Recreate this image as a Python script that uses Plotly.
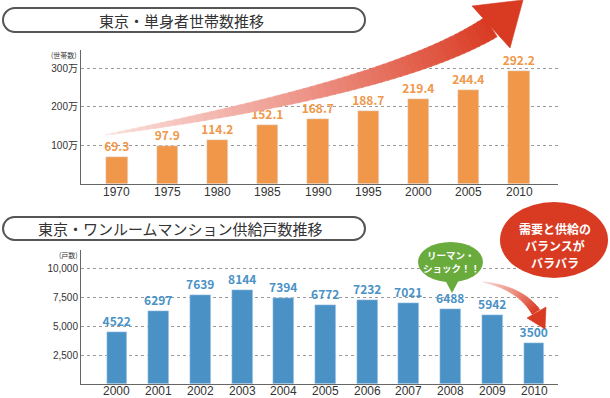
import plotly.graph_objects as go

# ---------------- data ----------------
single_years = ["1970", "1975", "1980", "1985", "1990", "1995", "2000", "2005", "2010"]
single_households = [69.3, 97.9, 114.2, 152.1, 168.7, 188.7, 219.4, 244.4, 292.2]
single_ticks = [100, 200, 300]
single_ticktext = ["100万", "200万", "300万"]

studio_years = ["2000", "2001", "2002", "2003", "2004", "2005", "2006", "2007", "2008", "2009", "2010"]
studio_supply = [4522, 6297, 7639, 8144, 7394, 6772, 7232, 7021, 6488, 5942, 3500]
studio_ticks = [2500, 5000, 7500, 10000]
studio_ticktext = ["2,500", "5,000", "7,500", "10,000"]

title_top = "東京・単身者世帯数推移"
title_bottom = "東京・ワンルームマンション供給戸数推移"
unit_top = "(世帯数)"
unit_bottom = "(戸数)"
bubble_lines = ["リーマン・", "ショック！！"]
circle_lines = ["需要と供給の", "バランスが", "バラバラ"]

# ---------------- layout helpers ----------------
W, H = 610, 398
FONT = "Noto Sans CJK JP"
LATIN = "Liberation Sans, Noto Sans CJK JP"
ORANGE = "#f0974a"
BLUE = "#4a92c6"

def px_x(p):
    return p / W

def px_y(p):
    return 1 - p / H

fig = go.Figure()

fig.add_trace(go.Bar(
    x=single_years, y=single_households, xaxis="x", yaxis="y",
    marker_color=ORANGE, width=0.42,
    text=[f"{v:.1f}" for v in single_households], textposition="outside",
    constraintext="none",
    textfont=dict(color=ORANGE, size=12, family=FONT, weight="bold"),
    cliponaxis=False, hoverinfo="skip", showlegend=False,
))
fig.add_trace(go.Bar(
    x=studio_years, y=studio_supply, xaxis="x2", yaxis="y2",
    marker_color=BLUE, width=0.5,
    text=[str(v) for v in studio_supply], textposition="outside",
    constraintext="none",
    textfont=dict(color=BLUE, size=12, family=FONT, weight="bold"),
    cliponaxis=False, hoverinfo="skip", showlegend=False,
))
# invisible trace to instantiate the pixel overlay axes
fig.add_trace(go.Scatter(x=[0], y=[0], xaxis="x3", yaxis="y3", mode="markers",
                         marker=dict(opacity=0), hoverinfo="skip", showlegend=False))

# ---------------- decorations (pixel coordinates on x3/y3) ----------------
shapes = []

def lerp(a, b, t):
    return a + (b - a) * t

def color_at(stops, t):
    for (t0, c0), (t1, c1) in zip(stops, stops[1:]):
        if t <= t1:
            u = (t - t0) / (t1 - t0) if t1 > t0 else 0
            return "rgb(%d,%d,%d)" % tuple(round(lerp(c0[i], c1[i], u)) for i in range(3))
    c = stops[-1][1]
    return "rgb(%d,%d,%d)" % c

def bez(pts, t):
    if len(pts) == 3:
        (x0, y0), (x1, y1), (x2, y2) = pts
        return ((1-t)**2*x0 + 2*(1-t)*t*x1 + t*t*x2,
                (1-t)**2*y0 + 2*(1-t)*t*y1 + t*t*y2)
    (x0, y0), (x1, y1), (x2, y2), (x3, y3) = pts
    a, b, c, d = (1-t)**3, 3*(1-t)**2*t, 3*(1-t)*t*t, t**3
    return (a*x0 + b*x1 + c*x2 + d*x3, a*y0 + b*y1 + c*y2 + d*y3)

def gradient_arrow(pts, maxw, power, stops, head, n=60):
    import math
    def edge(t):
        x, y = bez(pts, t)
        e = 1e-3
        xa, ya = bez(pts, max(0, t - e))
        xb, yb = bez(pts, min(1, t + e))
        dx, dy = xb - xa, yb - ya
        L = math.hypot(dx, dy)
        nx, ny = -dy / L, dx / L
        w = maxw * (t ** power)
        return (x + nx * w, y + ny * w), (x - nx * w, y - ny * w)
    for i in range(n):
        t0, t1 = i / n, (i + 1) / n
        a0, b0 = edge(t0)
        a1, b1 = edge(min(1, t1 + 0.004))
        col = color_at(stops, (t0 + t1) / 2)
        path = "M %.2f,%.2f L %.2f,%.2f L %.2f,%.2f L %.2f,%.2f Z" % (
            a0[0], a0[1], a1[0], a1[1], b1[0], b1[1], b0[0], b0[1])
        shapes.append(dict(type="path", xref="x3", yref="y3", path=path,
                           fillcolor=col, line=dict(width=0.6, color=col), layer="above"))
    hc = color_at(stops, 1)
    path = "M %.1f,%.1f L %.1f,%.1f L %.1f,%.1f Z" % (head[0] + head[1] + head[2])
    shapes.append(dict(type="path", xref="x3", yref="y3", path=path,
                       fillcolor=hc, line=dict(width=0.6, color=hc), layer="above"))

# big rising arrow
gradient_arrow([(105, 135), (240, 112), (410, 78), (491, 27)], 11.5, 0.8,
               [(0, (250, 226, 222)), (0.45, (238, 152, 140)), (0.75, (226, 96, 76)), (1, (216, 58, 34))],
               [(472, 6), (523, 0), (510, 48)])
# small falling arrow
gradient_arrow([(483, 282), (520, 288), (536, 312)], 4.5, 0.9,
               [(0, (248, 215, 210)), (0.5, (236, 140, 125)), (1, (216, 58, 34))],
               [(527, 318), (545, 329), (546, 307)], n=30)

def pill(x0, x1, y0, y1):
    r = (y1 - y0) / 2
    ym = (y0 + y1) / 2
    k = 0.55 * r
    p = (f"M {x0+r},{y0} L {x1-r},{y0} "
         f"C {x1-r+k},{y0} {x1},{ym-k} {x1},{ym} "
         f"C {x1},{ym+k} {x1-r+k},{y1} {x1-r},{y1} "
         f"L {x0+r},{y1} "
         f"C {x0+r-k},{y1} {x0},{ym+k} {x0},{ym} "
         f"C {x0},{ym-k} {x0+r-k},{y0} {x0+r},{y0} Z")
    return dict(type="path", xref="x3", yref="y3", path=p, fillcolor="white",
                line=dict(color="#555555", width=2), layer="below")

shapes.append(pill(3, 365, 8, 32))
shapes.append(pill(3, 365, 217, 240))

# green speech bubble
shapes.append(dict(type="circle", xref="x3", yref="y3", x0=418, x1=483, y0=242, y1=282,
                   fillcolor="#6aab3d", line=dict(width=0), layer="above"))
shapes.append(dict(type="path", xref="x3", yref="y3", path="M 444,278 L 452,293 L 460,278 Z",
                   fillcolor="#6aab3d", line=dict(width=0), layer="above"))
# red circle
shapes.append(dict(type="circle", xref="x3", yref="y3", x0=500, x1=608, y0=202, y1=278,
                   fillcolor="#d83b22", line=dict(width=0), layer="above"))

annotations = [
    dict(x=181, y=20, text=title_top, font=dict(size=15, color="#333333", family=FONT)),
    dict(x=180, y=228, text=title_bottom, font=dict(size=15, color="#333333", family=FONT)),
    dict(x=79, y=55, text=unit_top, xanchor="right", font=dict(size=7, color="#333333", family=FONT)),
    dict(x=80, y=255, text=unit_bottom, xanchor="right", font=dict(size=7, color="#333333", family=FONT)),
]
for line, yy in zip(bubble_lines, [254.5, 268]):
    annotations.append(dict(x=451, y=yy, text=line,
                            font=dict(size=9.5, color="white", family=FONT, weight="bold")))
for line, yy in zip(circle_lines, [228, 245, 262]):
    annotations.append(dict(x=555, y=yy, text=line,
                            font=dict(size=12, color="white", family=FONT, weight="bold")))
for a in annotations:
    a.update(xref="x3", yref="y3", showarrow=False)
    a.setdefault("xanchor", "center")
    a.setdefault("yanchor", "middle")

# category tick labels placed through the category axes (by category index)
for i, yr in enumerate(single_years):
    annotations.append(dict(x=i, xref="x", y=px_y(192), yref="paper", text=yr, showarrow=False,
                            xanchor="center", yanchor="middle",
                            font=dict(size=12, color="#333333", family=LATIN)))
for i, yr in enumerate(studio_years):
    annotations.append(dict(x=i, xref="x2", y=px_y(391), yref="paper", text=yr, showarrow=False,
                            xanchor="center", yanchor="middle",
                            font=dict(size=12, color="#333333", family=LATIN)))

# ---------------- axes ----------------
ax_left, ax_right = 81, 558
top_base, top_top = 184, 50
bot_base, bot_top = 384, 250

top_span = (top_base - top_top) / ((top_base - 68) / 300)
bot_span = (bot_base - bot_top) / ((bot_base - 268) / 10000)

ytick_font = dict(size=10, color="#333333", family=LATIN)

fig.update_layout(
    width=W, height=H, margin=dict(l=0, r=0, t=0, b=0),
    paper_bgcolor="white", plot_bgcolor="rgba(0,0,0,0)",
    bargap=0, showlegend=False,
    xaxis=dict(domain=[px_x(ax_left), px_x(ax_right)], anchor="y", type="category",
               range=[-(117 - ax_left) / 50.25, (ax_right - 117) / 50.25],
               showline=True, linecolor="#666666", linewidth=1, ticks="",
               showticklabels=False, showgrid=False, fixedrange=True),
    yaxis=dict(domain=[px_y(top_base), px_y(top_top)], anchor="x",
               range=[0, top_span], tickvals=single_ticks, ticktext=single_ticktext,
               showline=True, linecolor="#666666", linewidth=1, ticks="",
               tickfont=ytick_font, showgrid=True, gridcolor="#9a9a9a", griddash="dot",
               gridwidth=1, zeroline=False, fixedrange=True),
    xaxis2=dict(domain=[px_x(ax_left), px_x(ax_right)], anchor="y2", type="category",
                range=[-(117 - ax_left) / 41.7, (ax_right - 117) / 41.7],
                showline=True, linecolor="#666666", linewidth=1, ticks="",
                showticklabels=False, showgrid=False, fixedrange=True),
    yaxis2=dict(domain=[px_y(bot_base), px_y(bot_top)], anchor="x2",
                range=[0, bot_span], tickvals=studio_ticks, ticktext=studio_ticktext,
                showline=True, linecolor="#666666", linewidth=1, ticks="",
                tickfont=ytick_font, showgrid=True, gridcolor="#9a9a9a", griddash="dot",
                gridwidth=1, zeroline=False, fixedrange=True),
    xaxis3=dict(domain=[0, 1], anchor="y3", range=[0, W], visible=False, fixedrange=True),
    yaxis3=dict(domain=[0, 1], anchor="x3", range=[H, 0], visible=False, fixedrange=True),
    shapes=shapes, annotations=annotations,
)

fig.write_html("out.html", config=dict(displayModeBar=False),
               post_script="document.body.style.margin='0';document.body.style.overflow='hidden';")
